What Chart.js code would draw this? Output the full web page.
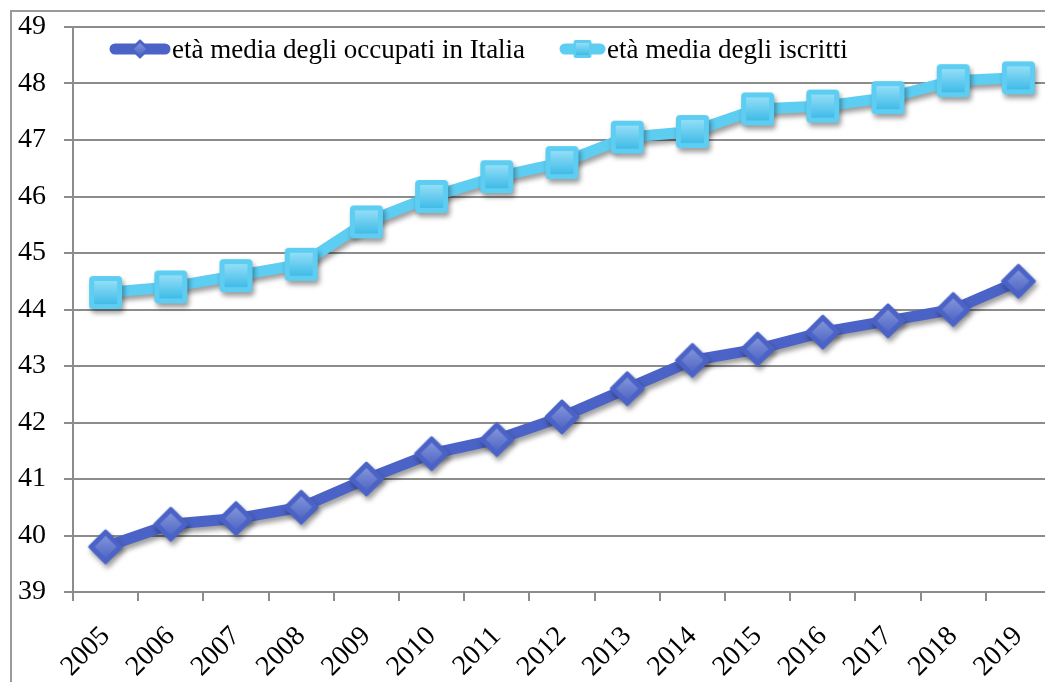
<!DOCTYPE html>
<html>
<head>
<meta charset="utf-8">
<script src="https://cdn.jsdelivr.net/npm/chart.js@4/dist/chart.umd.min.js"></script>
<style>
    html, body { margin: 0; padding: 0; background: #fff; overflow: hidden; }
    #wrap { position: relative; width: 1045px; height: 682px; overflow: hidden; }
    #frame { position: absolute; left: 10px; top: 10px; width: 1100px; height: 800px; border: 2px solid #9a9a9a; }
    #box { position: absolute; left: 0; top: 0; width: 1066px; height: 682px; }
</style>
</head>
<body>
<div id="wrap">
    <div id="frame"></div>
    <div id="box"><canvas id="chart"></canvas></div>
</div>
<script>
const years = ['2005', '2006', '2007', '2008', '2009', '2010', '2011', '2012', '2013', '2014', '2015', '2016', '2017', '2018', '2019'];
const occupati = [39.8, 40.2, 40.3, 40.5, 41.0, 41.45, 41.7, 42.1, 42.6, 43.1, 43.3, 43.6, 43.8, 44.0, 44.5];
const iscritti = [44.3, 44.4, 44.6, 44.8, 45.55, 46.0, 46.35, 46.6, 47.05, 47.15, 47.55, 47.6, 47.75, 48.05, 48.1];
const yMin = 39;
const yMax = 49;
const labels = ['età media degli occupati in Italia', 'età media degli iscritti'];

const DARK = '#4b63c6';
const LIGHT = '#5dcdf2';
const FONT = '"Liberation Serif", "Times New Roman", serif';

function diamondMarker() {
    const c = document.createElement('canvas');
    c.width = 38; c.height = 38;
    const ctx = c.getContext('2d');
    const path = (r) => {
        ctx.beginPath();
        ctx.moveTo(19, 19 - r); ctx.lineTo(19 + r, 19); ctx.lineTo(19, 19 + r); ctx.lineTo(19 - r, 19);
        ctx.closePath();
    };
    ctx.lineJoin = 'round';
    path(16);
    ctx.fillStyle = DARK;
    ctx.strokeStyle = DARK;
    ctx.lineWidth = 3;
    ctx.fill(); ctx.stroke();
    const g = ctx.createLinearGradient(0, 8, 0, 30);
    g.addColorStop(0, '#8294da');
    g.addColorStop(1, '#5168c6');
    path(11);
    ctx.fillStyle = g;
    ctx.fill();
    return c;
}

function squareMarker() {
    const c = document.createElement('canvas');
    c.width = 35; c.height = 35;
    const ctx = c.getContext('2d');
    ctx.fillStyle = LIGHT;
    ctx.beginPath();
    ctx.roundRect(1, 1, 33, 33, 4);
    ctx.fill();
    const g = ctx.createLinearGradient(0, 6, 0, 29);
    g.addColorStop(0, '#93def7');
    g.addColorStop(1, '#40bce8');
    ctx.fillStyle = g;
    ctx.fillRect(6, 6, 23, 23);
    return c;
}

const diamond = diamondMarker();
const square = squareMarker();

const shadowPlugin = {
    id: 'shadow',
    beforeDatasetsDraw(chart) {
        const ctx = chart.ctx;
        ctx.save();
        ctx.shadowColor = 'rgba(0,0,0,0.38)';
        ctx.shadowBlur = 5;
        ctx.shadowOffsetX = 2;
        ctx.shadowOffsetY = 4;
    },
    afterDatasetsDraw(chart) {
        chart.ctx.restore();
    }
};

// legend sits inside the plot, line sample + marker + text
const insideLegend = {
    id: 'insideLegend',
    afterDraw(chart, args, opts) {
        const ctx = chart.ctx;
        const y = opts.y;
        chart.data.datasets.forEach((ds, i) => {
            const it = opts.items[i];
            ctx.save();
            ctx.strokeStyle = ds.borderColor;
            ctx.lineWidth = 11;
            ctx.lineCap = 'round';
            ctx.beginPath();
            ctx.moveTo(it.x0 + 5, y);
            ctx.lineTo(it.x1 - 5, y);
            ctx.stroke();
            const mx = (it.x0 + it.x1) / 2;
            ctx.drawImage(ds.pointStyle, mx - it.m / 2, y - it.m / 2, it.m, it.m);
            ctx.fillStyle = '#000';
            ctx.font = '27px ' + FONT;
            ctx.textBaseline = 'middle';
            ctx.fillText(ds.label, it.x1 + 2, y + 2);
            ctx.restore();
        });
    }
};

new Chart(document.getElementById('chart'), {
    type: 'line',
    data: {
        labels: years,
        datasets: [
            {
                label: labels[0],
                data: occupati,
                borderColor: DARK,
                backgroundColor: DARK,
                borderWidth: 11,
                pointStyle: diamond,
                tension: 0
            },
            {
                label: labels[1],
                data: iscritti,
                borderColor: LIGHT,
                backgroundColor: LIGHT,
                borderWidth: 11,
                pointStyle: square,
                tension: 0
            }
        ]
    },
    options: {
        responsive: true,
        maintainAspectRatio: false,
        animation: false,
        layout: { padding: { top: 27, left: 0, right: 0, bottom: 0 } },
        plugins: {
            legend: { display: false },
            tooltip: { enabled: false },
            insideLegend: {
                y: 49,
                items: [
                    { x0: 110, x1: 170, m: 21 },
                    { x0: 560, x1: 605, m: 19 }
                ]
            }
        },
        scales: {
            x: {
                offset: true,
                grid: { offset: true, drawOnChartArea: false, drawTicks: true, tickLength: 9, color: '#8c8c8c', lineWidth: 2 },
                border: { color: '#8c8c8c', width: 2 },
                ticks: {
                    color: '#000',
                    font: { family: FONT, size: 28 },
                    minRotation: 45,
                    maxRotation: 45,
                    padding: 19,
                    autoSkip: false
                },
                afterFit: (s) => { s.height = 90; }
            },
            y: {
                min: yMin,
                max: yMax,
                ticks: {
                    stepSize: 1,
                    color: '#000',
                    font: { family: FONT, size: 28 },
                    padding: 18
                },
                grid: { color: '#8c8c8c', lineWidth: 2, tickLength: 9 },
                border: { color: '#8c8c8c', width: 2 },
                afterFit: (s) => { s.width = 73; s.paddingTop = 0; }
            }
        }
    },
    plugins: [shadowPlugin, insideLegend]
});
</script>
</body>
</html>
